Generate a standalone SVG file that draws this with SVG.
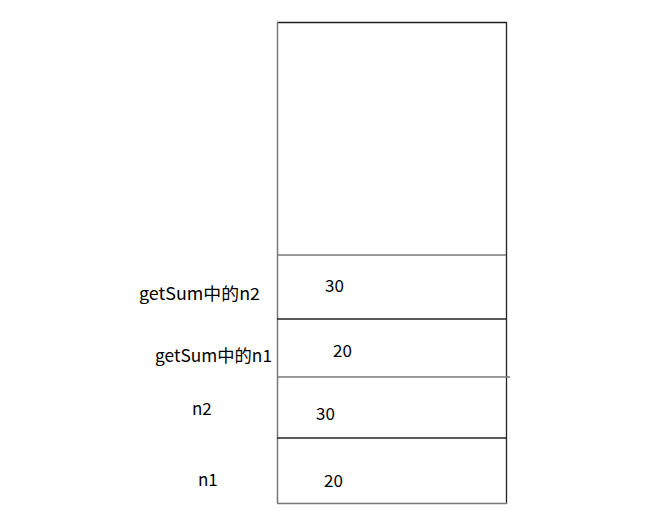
<svg xmlns="http://www.w3.org/2000/svg" width="656" height="511" viewBox="0 0 656 511">
<style>
.t{font-family:"Noto Sans CJK SC","Noto Sans",sans-serif;font-size:17px;fill:#000}
.dk{stroke:#222;stroke-width:1.3;fill:none}
.gr{stroke:#777;stroke-width:1.5;fill:none}
</style>
<rect width="656" height="511" fill="#fff"/>
<g id="stack">
<line class="dk" x1="277" y1="22.5" x2="507" y2="22.5"/>
<line class="gr" x1="277.5" y1="22" x2="277.5" y2="503"/>
<line class="dk" x1="506.5" y1="22" x2="506.5" y2="504"/>
<line class="gr" x1="277" y1="503.5" x2="507" y2="503.5"/>
</g>
<g id="cells">
<line class="gr" x1="277" y1="255" x2="506" y2="255"/>
<line class="dk" x1="277" y1="319" x2="506" y2="319"/>
<line class="gr" x1="277" y1="377" x2="510" y2="377"/>
<line class="dk" x1="277" y1="438" x2="506" y2="438"/>
</g>
<g id="labels">
<text class="t" x="139" y="300" textLength="121" lengthAdjust="spacingAndGlyphs">getSum中的n2</text>
<text class="t" x="155" y="362" textLength="117" lengthAdjust="spacingAndGlyphs">getSum中的n1</text>
<text class="t" x="192" y="415">n2</text>
<text class="t" x="198" y="486">n1</text>
</g>
<g id="values">
<text class="t" x="325" y="292">30</text>
<text class="t" x="333" y="357">20</text>
<text class="t" x="316" y="420">30</text>
<text class="t" x="324" y="487">20</text>
</g>
</svg>
